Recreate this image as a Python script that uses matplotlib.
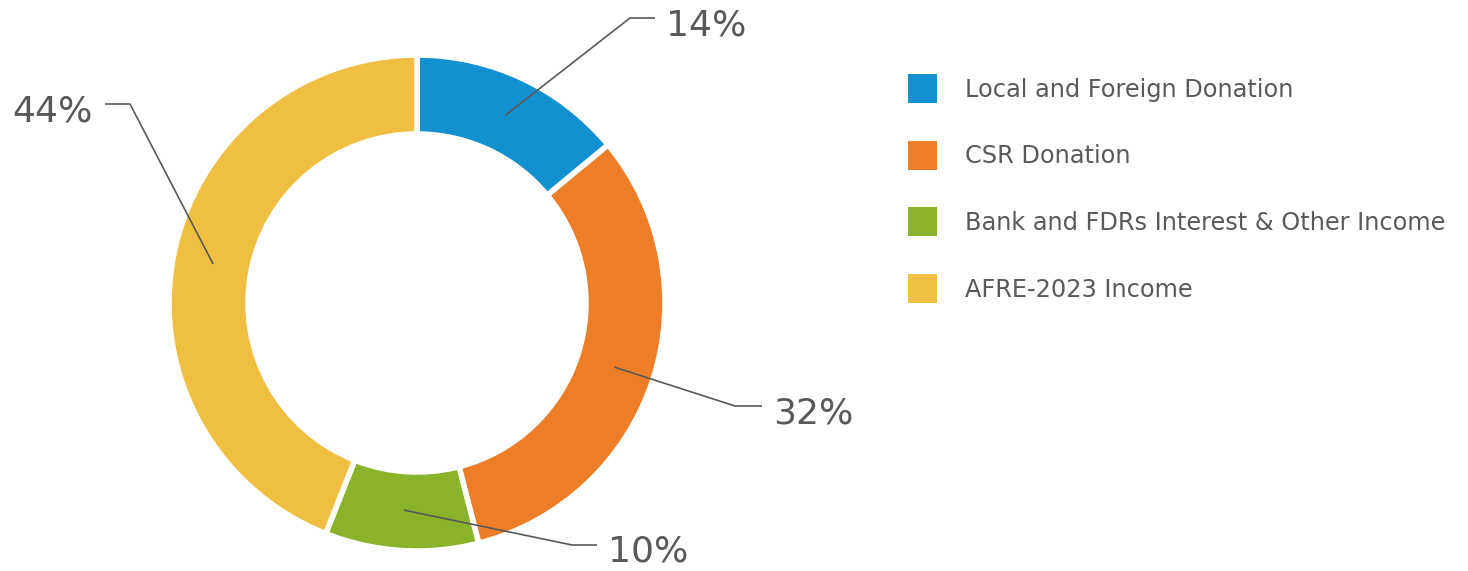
import matplotlib
matplotlib.use("Agg")
import matplotlib.pyplot as plt
from matplotlib.patches import Rectangle
import numpy as np

categories = [
    "Local and Foreign Donation",
    "CSR Donation",
    "Bank and FDRs Interest & Other Income",
    "AFRE-2023 Income",
]
shares = [14, 32, 10, 44]
colors = ["#1390CF", "#EE7D28", "#8BB22B", "#F0BE41"]

W, H = 1468, 571
fig = plt.figure(figsize=(W / 100, H / 100), dpi=100)
ax = fig.add_axes([0, 0, 1, 1])

cx, cy = 417, H - 303
r_out, ring = 248, 79

wedges, _ = ax.pie(
    shares, colors=colors, startangle=90, counterclock=False,
    radius=r_out, center=(cx, cy), frame=True,
    wedgeprops=dict(width=ring, edgecolor="white", linewidth=4),
)
ax.set_xlim(0, W)
ax.set_ylim(0, H)
ax.set_aspect("equal")
ax.axis("off")

text_color = "#595959"
font = "DejaVu Sans"

# elbow and label placement for each slice (pixel offsets from centre)
elbows = [(213, 285), (318, -103), (155, -242), (-287, 199)]
run = [25, 27, 25, -25]

for w, share, (ex, ey), dx in zip(wedges, shares, elbows, run):
    ang = np.deg2rad((w.theta1 + w.theta2) / 2)
    rm = r_out - ring / 2 - 1
    ax_, ay_ = cx + rm * np.cos(ang), cy + rm * np.sin(ang)
    bx, by = cx + ex, cy + ey
    ax.plot([ax_, bx, bx + dx], [ay_, by, by], color="#595959", lw=1.2,
            solid_capstyle="butt")
    ha = "left" if dx > 0 else "right"
    tx = bx + dx + (11 if dx > 0 else -12)
    ax.text(tx, by - 7, f"{share}%", ha=ha, va="center", fontsize=26,
            color=text_color, family=font)

# legend
for i, (lab, col) in enumerate(zip(categories, colors)):
    yc = H - (88.5 + i * 66.7)
    ax.add_patch(Rectangle((908, yc - 14.5), 29, 29, facecolor=col,
                           edgecolor="none"))
    ax.text(965, yc - 1, lab, ha="left", va="center", fontsize=17.3,
            color=text_color, family=font)

fig.savefig("out.png", dpi=100)
